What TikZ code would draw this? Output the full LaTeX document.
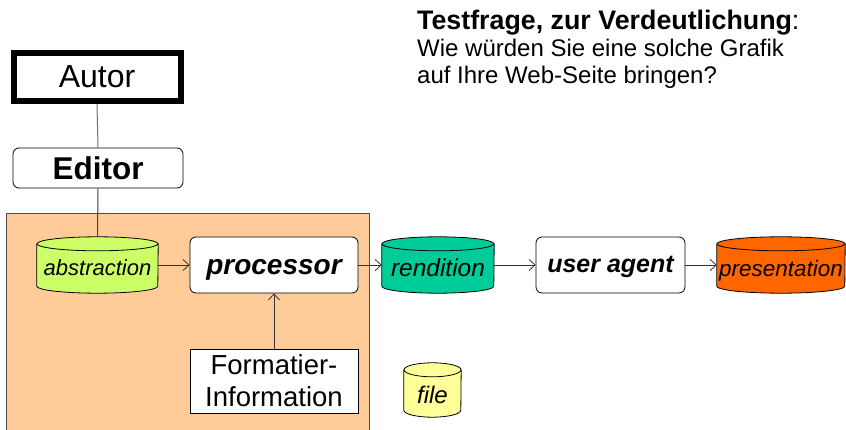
\documentclass[tikz,border=0pt]{standalone}
\usepackage{fontspec}
\setmainfont{Liberation Sans}
\usetikzlibrary{arrows.meta,calc}
\definecolor{peach}{HTML}{FFCC99}
\definecolor{absgreen}{HTML}{CCFF66}
\definecolor{rendgreen}{HTML}{00CC99}
\definecolor{presorange}{HTML}{FF6600}
\definecolor{fileyellow}{HTML}{FFFF99}
\definecolor{linegray}{HTML}{707070}
\newcommand\mycyl[3]{%
  \fill[#3] ([yshift=-7pt]#1.north west) -- ([yshift=7pt]#1.south west)
    arc[start angle=180,end angle=360,x radius=#2,y radius=7pt]
    -- ([yshift=-7pt]#1.north east)
    arc[start angle=0,end angle=180,x radius=#2,y radius=7pt] -- cycle;
  \draw[cylline] ([yshift=-7pt]#1.north west) -- ([yshift=7pt]#1.south west)
    arc[start angle=180,end angle=360,x radius=#2,y radius=7pt]
    -- ([yshift=-7pt]#1.north east);
  \draw[cylline] ([yshift=-7pt]#1.north) ellipse[x radius=#2,y radius=7pt];
}
\tikzset{
  cylline/.style={draw=black,line width=0.8pt},
  cylnode/.style={inner sep=0pt},
  cyllabel/.style={anchor=base,inner sep=0pt},
  rbox/.style={draw=black,line width=0.8pt,fill=white,rounded corners=6pt,inner sep=0pt},
  sbox/.style={draw=black,line width=0.8pt,fill=white,inner sep=0pt},
  conn/.style={draw=linegray,line width=1pt},
  arr/.style={draw=black!80,line width=0.8pt,-{Straight Barb[length=6pt,width=11pt]}},
}
\begin{document}
\begin{tikzpicture}[x=1pt,y=-1pt]
\useasboundingbox (0,0) rectangle (846,430);
\fill[white] (0,0) rectangle (846,430);
% background panel
\draw[fill=peach,draw=black!70,line width=0.8pt] (6,213) rectangle (369,436);
% nodes
\node[sbox,line width=6pt,minimum width=167pt,minimum height=48pt,text height=21pt,text depth=0pt,font=\fontsize{32}{36}\selectfont] (autor) at (97,77) {Autor};
\node[rbox,minimum width=170pt,minimum height=40pt,text height=24pt,text depth=0pt,font=\fontsize{31.5}{34}\selectfont\bfseries] (editor) at (98,168) {Editor};
\node[cylnode,minimum width=121pt,minimum height=56pt] (abs) at (97.5,265) {};
\node[rbox,minimum width=168pt,minimum height=56pt,text height=20pt,text depth=0pt,font=\fontsize{28}{32}\selectfont\bfseries\itshape] (proc) at (274,265) {processor};
\node[sbox,minimum width=168pt,minimum height=64pt,align=center,font=\fontsize{27.5}{32}\selectfont] (fmt) at (274,381) {Formatier-\\Information};
\node[cylnode,minimum width=112pt,minimum height=56pt] (rend) at (438,265) {};
\node[rbox,minimum width=149pt,minimum height=56pt,text height=16pt,text depth=0pt,font=\fontsize{25}{30}\selectfont\bfseries\itshape] (ua) at (610.5,265) {user agent};
\node[cylnode,minimum width=128pt,minimum height=56pt] (pres) at (781,265) {};
\node[cylnode,minimum width=57pt,minimum height=54pt] (file) at (432.5,390) {};
% cylinders
\mycyl{abs}{60.5pt}{absgreen}
\mycyl{rend}{56pt}{rendgreen}
\mycyl{pres}{64pt}{presorange}
\mycyl{file}{28.5pt}{fileyellow}
\node[cyllabel,font=\fontsize{22}{26}\selectfont\itshape] (absl) at ([yshift=-11pt]abs.center) {abstraction};
\node[cyllabel,font=\fontsize{24.5}{28}\selectfont\itshape] (rendl) at ([yshift=-12pt]rend.center) {rendition};
\node[cyllabel,font=\fontsize{22.5}{26}\selectfont\itshape] (presl) at ([yshift=-12pt]pres.center) {presentation};
\node[cyllabel,font=\fontsize{24}{28}\selectfont\itshape] (filel) at ([yshift=-13pt]file.center) {file};
% connectors
\draw[conn] (autor.south) -- (editor.north);
\draw[conn,draw=black!75] (editor.south) -- (abs.north);
\draw[arr] (abs.east) -- (proc.west);
\draw[arr] (proc.east) -- (rend.west);
\draw[arr] (rend.east) -- (ua.west);
\draw[arr] (ua.east) -- (pres.west);
\draw[arr] (fmt.north) -- (proc.south);
% question text
\node[anchor=base west,inner sep=0pt,font=\fontsize{26.8}{30}\selectfont] (q1) at (417,30) {\textbf{Testfrage, zur Verdeutlichung}:};
\node[anchor=base west,inner sep=0pt,font=\fontsize{24}{28}\selectfont] (q2) at (417,57) {Wie würden Sie eine solche Grafik};
\node[anchor=base west,inner sep=0pt,font=\fontsize{24}{28}\selectfont] (q3) at (417,84) {auf Ihre Web-Seite bringen?};
\end{tikzpicture}
\end{document}
